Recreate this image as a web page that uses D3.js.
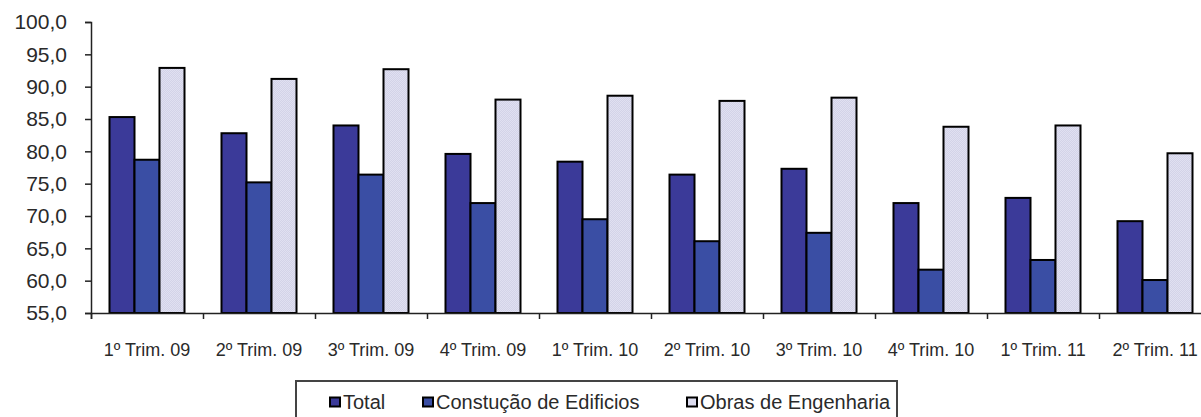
<!DOCTYPE html>
<html>
<head>
<meta charset="utf-8">
<script src="https://cdn.jsdelivr.net/npm/d3@7"></script>
<style>
  html, body { margin: 0; padding: 0; background: #fff; }
  svg { display: block; }
  text { font-family: "Liberation Sans", Arial, sans-serif; fill: #2a2a2a; }
</style>
</head>
<body>
<svg id="chart" width="1201" height="417"></svg>
<script>
// Quarterly index per segment
const categories = ["1º Trim. 09", "2º Trim. 09", "3º Trim. 09", "4º Trim. 09",
  "1º Trim. 10", "2º Trim. 10", "3º Trim. 10", "4º Trim. 10", "1º Trim. 11", "2º Trim. 11"];
const seriesNames = ["Total", "Constução de Edificios", "Obras de Engenharia"];
const totalValues = [85.3, 82.8, 84.0, 79.6, 78.4, 76.4, 77.3, 72.0, 72.8, 69.2];
const edificiosValues = [78.7, 75.2, 76.4, 72.0, 69.5, 66.1, 67.4, 61.7, 63.2, 60.1];
const engenhariaValues = [92.9, 91.2, 92.7, 88.0, 88.6, 87.8, 88.3, 83.8, 84.0, 79.7];
const yTicks = [55, 60, 65, 70, 75, 80, 85, 90, 95, 100];

const colors = ["#3b3a99", "#3a4ea4", "url(#dots)"];
const legendColors = ["#3b3a99", "#3a4ea4", "#dcdcef"];
const seriesValues = [totalValues, edificiosValues, engenhariaValues];

const rows = categories.map((c, i) => ({
  category: c,
  values: seriesNames.map((s, k) => ({ series: s, k, value: seriesValues[k][i] }))
}));

const svg = d3.select("#chart");

// fine dotted fill used by the light bars
const defs = svg.append("defs");
const pat = defs.append("pattern").attr("id", "dots")
  .attr("width", 2).attr("height", 2).attr("patternUnits", "userSpaceOnUse");
pat.append("rect").attr("width", 2).attr("height", 2).attr("fill", "#e0e0f1");
pat.append("rect").attr("width", 1).attr("height", 1).attr("fill", "#d3d3e8");
pat.append("rect").attr("x", 1).attr("y", 1).attr("width", 1).attr("height", 1).attr("fill", "#d3d3e8");

const plotLeft = 91, plotTop = 22, plotBottom = 313, plotRight = 1211;

const y = d3.scaleLinear().domain([55, 100]).range([plotBottom, plotTop]);
const x0 = d3.scaleBand().domain(categories).range([plotLeft, plotRight]).padding(0);
const x1 = d3.scaleBand().domain(seriesNames).range([0, x0.bandwidth()])
  .paddingInner(0).paddingOuter(0.74);

// bars
const groups = svg.append("g").selectAll("g").data(rows).join("g")
  .attr("transform", d => `translate(${x0(d.category)},0)`);
groups.selectAll("rect").data(d => d.values).join("rect")
  .attr("x", d => x1(d.series))
  .attr("y", d => y(d.value))
  .attr("width", x1.bandwidth())
  .attr("height", d => y(55) - y(d.value))
  .attr("fill", d => colors[d.k])
  .attr("stroke", "#000")
  .attr("stroke-width", 2);

// y axis
const yAxis = svg.append("g").attr("transform", `translate(${plotLeft},0)`)
  .call(d3.axisLeft(y).tickValues(yTicks).tickSize(6).tickPadding(18)
    .tickFormat(d => d3.format(".1f")(d).replace(".", ",")));
yAxis.select(".domain").attr("stroke", "#222").attr("stroke-width", 1.5);
yAxis.selectAll(".tick line").attr("stroke", "#222").attr("stroke-width", 1.5);
yAxis.selectAll("text").attr("font-size", 21).attr("font-family", "Liberation Sans, Arial, sans-serif").attr("fill", "#2a2a2a");

// x axis: boundary ticks between quarters
const xb = d3.scaleLinear().domain([0, categories.length]).range([plotLeft, plotRight]);
const xAxis = svg.append("g").attr("transform", `translate(0,${plotBottom})`)
  .call(d3.axisBottom(xb).tickValues(d3.range(0, categories.length + 1)).tickSize(6).tickFormat(""));
xAxis.select(".domain").attr("stroke", "#222").attr("stroke-width", 1.5);
xAxis.selectAll(".tick line").attr("stroke", "#222").attr("stroke-width", 1.5);

// x labels
const xLab = svg.append("g").attr("transform", `translate(0,${plotBottom})`)
  .call(d3.axisBottom(x0).tickSize(0).tickPadding(30));
xLab.select(".domain").remove();
xLab.selectAll("text").attr("font-size", 18).attr("font-family", "Liberation Sans, Arial, sans-serif").attr("fill", "#2a2a2a");

// legend
const legend = svg.append("g");
legend.append("path")
  .attr("d", "M296,420 V381 H897 V420")
  .attr("fill", "none").attr("stroke", "#444").attr("stroke-width", 2);
const legendX = [330, 423, 687];
seriesNames.forEach((s, k) => {
  legend.append("rect").attr("x", legendX[k]).attr("y", 397.5).attr("width", 10).attr("height", 9)
    .attr("fill", legendColors[k]).attr("stroke", "#000").attr("stroke-width", 2);
  legend.append("text").attr("x", legendX[k] + 13).attr("y", 409)
    .attr("font-size", 20).text(s);
});
</script>
</body>
</html>
